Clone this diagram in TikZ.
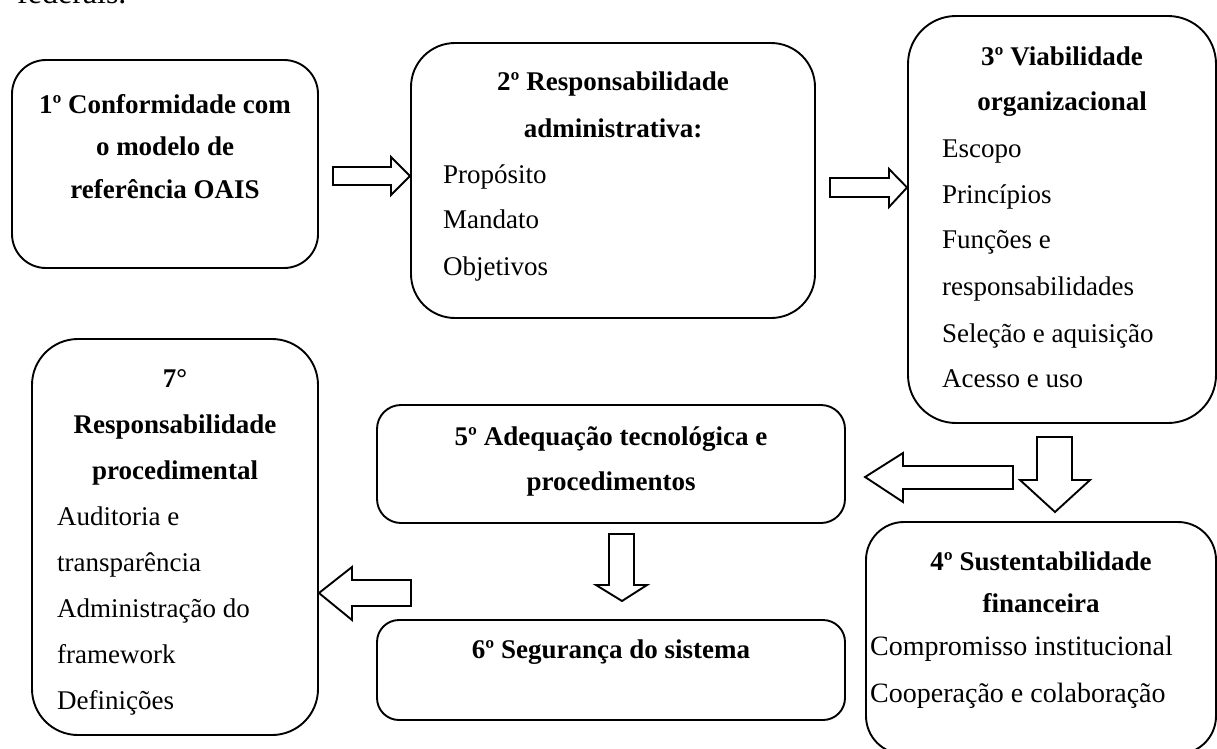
\documentclass[tikz,border=0pt]{standalone}
\usepackage{fontspec}
\setmainfont{Liberation Serif}
\begin{document}
\begin{tikzpicture}[x=1pt,y=-1pt,
  box/.style={draw=black, line width=1.9pt, inner sep=0pt},
  blk/.style={draw=black, line width=1.9pt, line join=miter, fill=white},
  ttl/.style={anchor=base, inner sep=0pt, font=\fontsize{27}{32}\selectfont\bfseries},
  itm/.style={anchor=base west, inner sep=0pt, font=\fontsize{27}{32}\selectfont},
  itmb/.style={anchor=base west, inner sep=0pt, font=\fontsize{28}{32}\selectfont},
  body/.style={anchor=base west, inner sep=0pt, font=\fontsize{32}{36}\selectfont}]
\path[use as bounding box] (0,0) rectangle (1217,748);
\clip (0,0) rectangle (1217,748);
\fill[white] (0,0) rectangle (1217,748);
% cut-off body text
\node[body] (fed) at (17,3) {federais.};
% boxes
\node[box, rounded corners=34pt, minimum width=306pt, minimum height=208pt] (b1) at (165,164) {};
\node[box, rounded corners=44pt, minimum width=404pt, minimum height=275pt] (b2) at (613,180.5) {};
\node[box, rounded corners=48pt, minimum width=308pt, minimum height=407pt] (b3) at (1062,219.5) {};
\node[box, rounded corners=38pt, minimum width=350pt, minimum height=232pt] (b4) at (1041,638) {};
\node[box, rounded corners=24pt, minimum width=468pt, minimum height=118pt] (b5) at (611,464) {};
\node[box, rounded corners=22pt, minimum width=468pt, minimum height=100pt] (b6) at (611,670) {};
\node[box, rounded corners=46pt, minimum width=286pt, minimum height=396pt] (b7) at (175,537) {};
% box 1 text
\node[ttl] (t1a) at (165,113) {1º Conformidade com};
\node[ttl] (t1b) at (165,155) {o modelo de};
\node[ttl] (t1c) at (165,198) {referência OAIS};
% box 2 text
\node[ttl] (t2a) at (613,90) {2º Responsabilidade};
\node[ttl] (t2b) at (613,137) {administrativa:};
\node[itm] (t2c) at (443,183) {Propósito};
\node[itm] (t2d) at (443,228) {Mandato};
\node[itm] (t2e) at (443,275) {Objetivos};
% box 3 text
\node[ttl] (t3a) at (1062,65) {3º Viabilidade};
\node[ttl] (t3b) at (1062,110) {organizacional};
\node[itm] (t3c) at (942,157) {Escopo};
\node[itm] (t3d) at (942,203) {Princípios};
\node[itm] (t3e) at (942,248) {Funções e};
\node[itm] (t3f) at (942,295) {responsabilidades};
\node[itm] (t3g) at (942,342) {Seleção e aquisição};
\node[itm] (t3h) at (942,387) {Acesso e uso};
% box 4 text
\node[ttl] (t4a) at (1041,570) {4º Sustentabilidade};
\node[ttl] (t4b) at (1041,612) {financeira};
\node[itmb] (t4c) at (870,655) {Compromisso institucional};
\node[itmb] (t4d) at (870,702) {Cooperação e colaboração};
% box 5 text
\node[ttl] (t5a) at (611,445) {5º Adequação tecnológica e};
\node[ttl] (t5b) at (611,490) {procedimentos};
% box 6 text
\node[ttl] (t6a) at (611,658) {6º Segurança do sistema};
% box 7 text
\node[ttl] (t7a) at (175,387) {7°};
\node[ttl] (t7b) at (175,433) {Responsabilidade};
\node[ttl] (t7c) at (175,479) {procedimental};
\node[itm] (t7d) at (57,525) {Auditoria e};
\node[itm] (t7e) at (57,571) {transparência};
\node[itm] (t7f) at (57,617) {Administração do};
\node[itm] (t7g) at (57,663) {framework};
\node[itm] (t7h) at (57,709) {Definições};
% block arrows
\draw[blk] (333,167) -- (391,167) -- (391,157) -- (b2.west |- 0,176) -- (391,195) -- (391,185) -- (333,185) -- cycle;
\draw[blk] (830,178) -- (889,178) -- (889,169) -- (b3.west |- 0,187.5) -- (889,207) -- (889,197) -- (830,197) -- cycle;
\draw[blk] (1037,437) -- (1072,437) -- (1072,480) -- (1090,480) -- (1055,512) -- (1020,480) -- (1037,480) -- cycle;
\draw[blk] (1013,466) -- (903,466) -- (903,453) -- (b4.west |- 0,477) -- (903,502) -- (903,489) -- (1013,489) -- cycle;
\draw[blk] (609,534) -- (634,534) -- (634,585) -- (647,585) -- (622,601) -- (596,585) -- (609,585) -- cycle;
\draw[blk] (411,580) -- (352,580) -- (352,567) -- (b7.east |- 0,593) -- (352,620) -- (352,606) -- (411,606) -- cycle;
\end{tikzpicture}
\end{document}
